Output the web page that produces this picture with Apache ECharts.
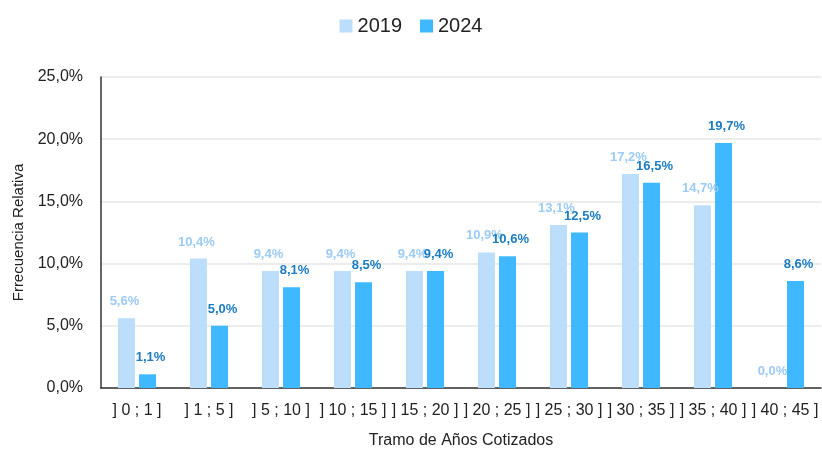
<!DOCTYPE html>
<html>
<head>
<meta charset="utf-8">
<script src="https://cdn.jsdelivr.net/npm/echarts@6/dist/echarts.min.js"></script>
<style>html,body{margin:0;padding:0;background:#fff}#c{width:822px;height:450px}</style>
</head>
<body>
<div id="c"></div>
<script>
const categories = ['] 0 ; 1 ]', '] 1 ; 5 ]', '] 5 ; 10 ]', '] 10 ; 15 ]', '] 15 ; 20 ]', '] 20 ; 25 ]', '] 25 ; 30 ]', '] 30 ; 35 ]', '] 35 ; 40 ]', '] 40 ; 45 ]'];
const v2019 = [5.6, 10.4, 9.4, 9.4, 9.4, 10.9, 13.1, 17.2, 14.7, 0.0];
const v2024 = [1.1, 5.0, 8.1, 8.5, 9.4, 10.6, 12.5, 16.5, 19.7, 8.6];
const yTicks = [0, 5, 10, 15, 20, 25];

const font = 'Liberation Sans, Arial, sans-serif';
const fmt = v => v.toFixed(1).replace('.', ',') + '%';
const chart = echarts.init(document.getElementById('c'), null, {renderer: 'canvas'});
chart.setOption({
  animation: false,
  textStyle: {fontFamily: font},
  legend: {
    top: 11, left: 'center', itemWidth: 13, itemHeight: 13, itemGap: 18,
    icon: 'rect',
    textStyle: {fontSize: 20, color: '#222', fontFamily: font},
    data: ['2019', '2024']
  },
  grid: {left: 101, right: 1, top: 77, bottom: 62, containLabel: false, outerBoundsMode: 'none'},
  xAxis: {
    type: 'category', data: categories,
    axisLine: {lineStyle: {color: '#333', width: 1.5}},
    axisTick: {show: false},
    axisLabel: {fontSize: 16, color: '#222', margin: 15, interval: 0},
    name: 'Tramo de Años Cotizados', nameLocation: 'middle', nameGap: 45,
    nameTextStyle: {fontSize: 16, color: '#222'}
  },
  yAxis: {
    type: 'value', min: yTicks[0], max: yTicks[yTicks.length - 1], interval: 5,
    axisLine: {show: true, lineStyle: {color: '#333', width: 1.5}},
    axisTick: {show: false},
    splitLine: {lineStyle: {color: '#e6e6e6', width: 1.5}},
    axisLabel: {fontSize: 16, color: '#222', margin: 18, formatter: v => fmt(v)},
    name: 'Frrecuencia Relativa', nameLocation: 'middle', nameGap: 72, nameRotate: 90,
    nameTextStyle: {fontSize: 15, color: '#222'}
  },
  series: [
    {
      name: '2019', type: 'bar', data: v2019, barWidth: 17, barGap: '24%',
      itemStyle: {color: '#bddefb'},
      label: {show: true, position: 'top', distance: 10, offset: [-2, 0], fontSize: 13, color: '#9ccbf5', fontWeight: 'bold', formatter: p => fmt(p.value)}
    },
    {
      name: '2024', type: 'bar', data: v2024, barWidth: 17,
      itemStyle: {color: '#40b8ff'},
      label: {show: true, position: 'top', distance: 10, offset: [3, 0], fontSize: 13, color: '#1b7cc2', fontWeight: 'bold', formatter: p => fmt(p.value)}
    }
  ]
});
</script>
</body>
</html>
